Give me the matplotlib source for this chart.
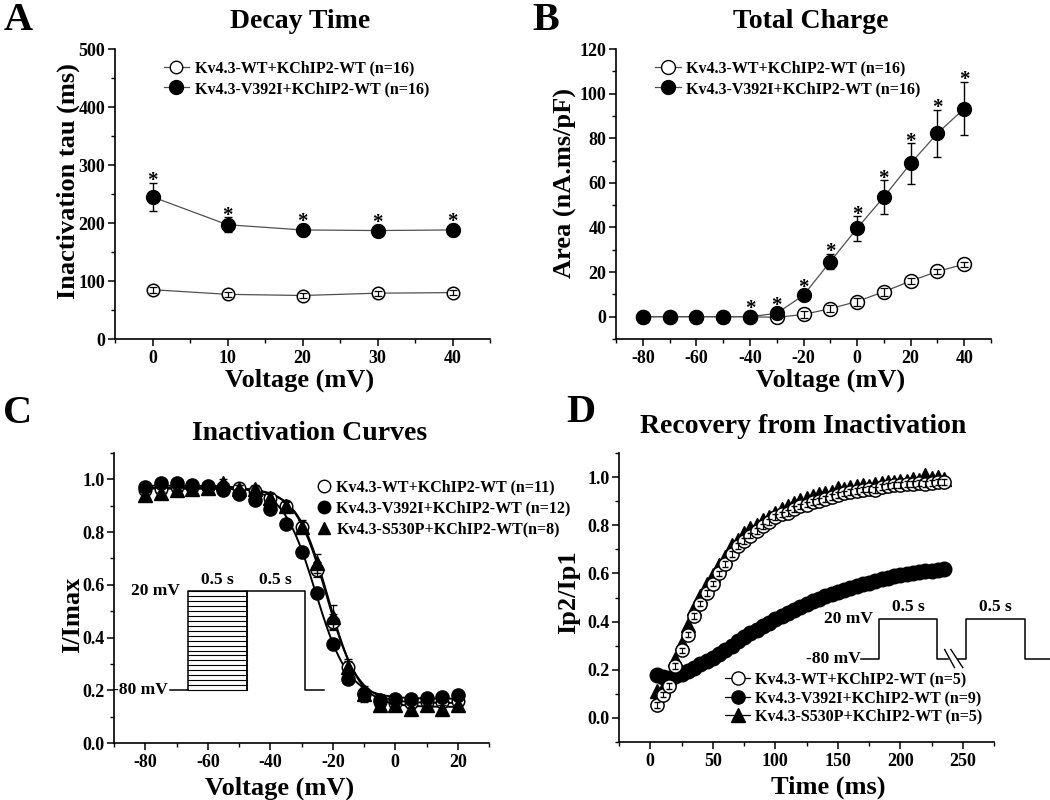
import matplotlib
matplotlib.use('Agg')
import matplotlib.pyplot as plt
import numpy as np
from matplotlib.ticker import MultipleLocator, FormatStrFormatter
from matplotlib.lines import Line2D

plt.rcParams['font.family'] = ['Liberation Serif', 'DejaVu Serif']
plt.rcParams['font.weight'] = 'bold'
plt.rcParams['axes.labelweight'] = 'bold'
plt.rcParams['axes.linewidth'] = 1.2
plt.rcParams['axes.unicode_minus'] = False
plt.rcParams['xtick.direction'] = 'out'
plt.rcParams['ytick.direction'] = 'out'

# ---------------- Panel A: Decay Time ----------------
a_voltage = [0, 10, 20, 30, 40]
a_wt = [85, 77, 75, 79, 80]
a_wt_err = [5, 4, 4, 4, 4]
a_v392i = [245, 197, 188, 187, 188]
a_v392i_err = [24, 13, 10, 10, 11]
a_labels = ['Kv4.3-WT+KChIP2-WT (n=16)', 'Kv4.3-V392I+KChIP2-WT (n=16)']

# ---------------- Panel B: Total Charge ----------------
b_voltage = [-80, -70, -60, -50, -40, -30, -20, -10, 0, 10, 20, 30, 40]
b_wt = [0, 0, 0, 0, 0, -0.3, 1.0, 3.6, 6.8, 11.2, 16.0, 20.3, 23.5]
b_wt_err = [0, 0, 0, 0, 0, 0.6, 1.5, 1.5, 1.8, 1.8, 1.5, 1.2, 1.2]
b_v392i = [0, 0, 0, 0, 0, 1.5, 9.6, 24.7, 39.6, 53.7, 68.7, 82.2, 93.3]
b_v392i_err = [0, 0, 0, 0, 0, 0.8, 1.5, 3.5, 5.5, 7.5, 9.0, 10.5, 12.0]
b_star_voltage = [-40, -30, -20, -10, 0, 10, 20, 30, 40]
b_labels = ['Kv4.3-WT+KChIP2-WT (n=16)', 'Kv4.3-V392I+KChIP2-WT (n=16)']

# ---------------- Panel C: Inactivation Curves ----------------
c_voltage = [-80, -75, -70, -65, -60, -55, -50, -45, -40, -35, -30, -25, -20,
             -15, -10, -5, 0, 5, 10, 15, 20]
c_wt = [0.96, 0.965, 0.97, 0.97, 0.97, 0.97, 0.966, 0.955, 0.93, 0.899, 0.82,
        0.658, 0.46, 0.29, 0.19, 0.155, 0.15, 0.15, 0.155, 0.155, 0.16]
c_wt_err = [0.015, 0.012, 0.012, 0.012, 0.012, 0.012, 0.012, 0.012, 0.015, 0.015,
            0.02, 0.03, 0.03, 0.02, 0.015, 0.012, 0.012, 0.012, 0.012, 0.012, 0.012]
c_v392i = [0.97, 0.987, 0.985, 0.978, 0.975, 0.96, 0.944, 0.92, 0.886, 0.829,
           0.725, 0.57, 0.377, 0.244, 0.187, 0.162, 0.168, 0.168, 0.171, 0.175, 0.181]
c_v392i_err = [0.01] * 21
c_s530p = [0.94, 0.947, 0.96, 0.962, 0.966, 0.987, 0.962, 0.962, 0.928, 0.899,
           0.82, 0.681, 0.478, 0.289, 0.187, 0.143, 0.143, 0.13, 0.143, 0.13, 0.143]
c_s530p_err = [0.02, 0.02, 0.02, 0.02, 0.015, 0.015, 0.015, 0.015, 0.02, 0.02,
               0.025, 0.035, 0.045, 0.03, 0.03, 0.02, 0.015, 0.015, 0.015, 0.015, 0.015]
c_labels = ['Kv4.3-WT+KChIP2-WT (n=11)', 'Kv4.3-V392I+KChIP2-WT (n=12)',
            'Kv4.3-S530P+KChIP2-WT(n=8)']
# Boltzmann fit parameters (top, bottom, V1/2, slope k)
c_fit_wt = (0.968, 0.152, -22.0, 5.0)
c_fit_v392i = (0.976, 0.168, -25.5, 5.3)
c_fit_s530p = (0.965, 0.137, -21.5, 5.0)

# ---------------- Panel D: Recovery from Inactivation ----------------
d_time = list(range(5, 240, 5))
d_wt = [0.055, 0.097, 0.134, 0.215, 0.28, 0.346, 0.422, 0.475, 0.52, 0.558,
        0.60, 0.64, 0.68, 0.713, 0.735, 0.757, 0.776, 0.795, 0.812, 0.835,
        0.845, 0.85, 0.868, 0.878, 0.886, 0.895, 0.902, 0.91, 0.918, 0.925,
        0.932, 0.938, 0.943, 0.948, 0.951, 0.945, 0.958, 0.962, 0.966, 0.968,
        0.97, 0.972, 0.974, 0.97, 0.976, 0.978, 0.98]
d_v392i = [0.178, 0.168, 0.166, 0.172, 0.182, 0.195, 0.208, 0.222, 0.235, 0.25,
           0.265, 0.282, 0.30, 0.318, 0.335, 0.352, 0.367, 0.382, 0.396, 0.41,
           0.423, 0.436, 0.449, 0.461, 0.473, 0.485, 0.495, 0.505, 0.514, 0.523,
           0.532, 0.541, 0.548, 0.555, 0.562, 0.569, 0.576, 0.582, 0.588, 0.594,
           0.599, 0.603, 0.606, 0.609, 0.612, 0.614, 0.617]
d_s530p = [0.113, 0.125, 0.166, 0.245, 0.31, 0.385, 0.457, 0.505, 0.555, 0.595,
           0.634, 0.67, 0.72, 0.74, 0.768, 0.787, 0.803, 0.82, 0.835, 0.85,
           0.868, 0.88, 0.893, 0.905, 0.912, 0.92, 0.928, 0.934, 0.94, 0.955,
           0.95, 0.958, 0.962, 0.968, 0.965, 0.972, 0.975, 0.978, 0.98, 0.982,
           0.985, 0.99, 0.988, 1.01, 0.995, 1.0, 0.993]
d_err = 0.012
d_labels = ['Kv4.3-WT+KChIP2-WT (n=5)', 'Kv4.3-V392I+KChIP2-WT (n=9)',
            'Kv4.3-S530P+KChIP2-WT (n=5)']

LINEC = '#505050'
TICKSIZE = 13
W, H = 1050, 800
fig = plt.figure(figsize=(10.5, 8), dpi=100)


def px_axes(l, t, r, b):
    return fig.add_axes([l / W, 1 - b / H, (r - l) / W, (b - t) / H])


def style(ax, xmaj, xmin, ymaj, ymin):
    for s in ('top', 'right'):
        ax.spines[s].set_visible(False)
    ax.xaxis.set_major_locator(MultipleLocator(xmaj))
    ax.xaxis.set_minor_locator(MultipleLocator(xmin))
    ax.yaxis.set_major_locator(MultipleLocator(ymaj))
    ax.yaxis.set_minor_locator(MultipleLocator(ymin))
    ax.tick_params(which='major', length=5, width=1.1, labelsize=TICKSIZE, pad=2)
    ax.tick_params(which='minor', length=3, width=1.0)
    ax.tick_params(axis='x', which='major', pad=3)
    for lab in ax.get_xticklabels() + ax.get_yticklabels():
        lab.set_fontweight('bold')


def labels(ax, xl, xlx, xly, yl, ylx, yly, size=19):
    ax.text(xlx, xly, xl, transform=ax.transAxes, ha='center', va='center',
            fontsize=size, fontweight='bold')
    ax.text(ylx, yly, yl, transform=ax.transAxes, ha='center', va='center',
            fontsize=size, fontweight='bold', rotation=90)


def stars(ax, xs, ys, errs, r_px=6):
    inv = ax.transData.inverted()
    for x, y, e in zip(xs, ys, errs):
        px0 = ax.transData.transform((x, y))
        ey = ax.transData.transform((x, y + e))[1] - px0[1]
        off = max(ey, r_px) - 8.5
        top = inv.transform((px0[0], px0[1] + off))[1]
        ax.text(x, top, '*', ha='center', va='bottom', fontsize=15,
                fontweight='bold', transform=ax.transData)


def open_err(ax, x, y, e, ms, marker='o'):
    ax.plot(x, y, marker=marker, ls='none', mfc='white', mec='black', mew=1.1,
            ms=ms, zorder=3)
    ax.errorbar(x, y, yerr=e, fmt='none', ecolor='black', elinewidth=0.9,
                capsize=3, capthick=0.9, zorder=4)


# ================= Panel A =================
axA = px_axes(115, 49, 490, 339)
axA.set_xlim(-5, 45)
axA.set_ylim(0, 500)
axA.plot(a_voltage, a_wt, '-', color=LINEC, lw=0.9, zorder=2)
open_err(axA, a_voltage, a_wt, a_wt_err, 9)
axA.errorbar(a_voltage, a_v392i, yerr=a_v392i_err, fmt='-o', color=LINEC, lw=0.9,
             mfc='black', mec='black', ms=10, ecolor='black', elinewidth=1,
             capsize=3, capthick=1, zorder=3)
style(axA, 10, 5, 100, 50)
labels(axA, 'Voltage (mV)', 0.493, -0.142, 'Inactivation tau (ms)', -0.125, 0.545)
stars(axA, a_voltage, a_v392i, a_v392i_err)
hA = [Line2D([], [], color=LINEC, lw=0.9, marker='o', mfc='white', mec='black', ms=9),
      Line2D([], [], color=LINEC, lw=0.9, marker='o', mfc='black', mec='black', ms=10)]
axA.legend(hA, a_labels, loc='upper left', bbox_to_anchor=(0.10, 1.0), frameon=False,
           prop={'size': 11.5, 'weight': 'bold'}, handlelength=1.6, handletextpad=0.35,
           labelspacing=0.3, borderaxespad=0.3)

# ================= Panel B =================
axB = px_axes(616, 49, 991, 339)
axB.set_xlim(-90, 50)
axB.set_ylim(-10, 120)
axB.plot(b_voltage, b_wt, '-', color=LINEC, lw=0.9, zorder=2)
open_err(axB, b_voltage, b_wt, b_wt_err, 10)
axB.errorbar(b_voltage, b_v392i, yerr=b_v392i_err, fmt='-o', color=LINEC, lw=0.9,
             mfc='black', mec='black', ms=10, ecolor='black', elinewidth=1,
             capsize=3, capthick=1, zorder=5)
style(axB, 20, 10, 20, 10)
labels(axB, 'Voltage (mV)', 0.573, -0.142, 'Area (nA.ms/pF)', -0.135, 0.538)
bi = [b_voltage.index(v) for v in b_star_voltage]
stars(axB, b_star_voltage, [b_v392i[i] for i in bi], [b_v392i_err[i] for i in bi])
hB = [Line2D([], [], color=LINEC, lw=0.9, marker='o', mfc='white', mec='black', ms=10),
      Line2D([], [], color=LINEC, lw=0.9, marker='o', mfc='black', mec='black', ms=10)]
axB.legend(hB, b_labels, loc='upper left', bbox_to_anchor=(0.075, 1.0), frameon=False,
           prop={'size': 11.5, 'weight': 'bold'}, handlelength=1.6, handletextpad=0.35,
           labelspacing=0.3, borderaxespad=0.3)

# ================= Panel C =================
axC = px_axes(114, 453, 489, 743)
axC.set_xlim(-90, 30)
axC.set_ylim(0, 1.1)
vfit = np.linspace(-80, 20, 300)
for (top, bot, vh, k) in (c_fit_wt, c_fit_v392i, c_fit_s530p):
    axC.plot(vfit, bot + (top - bot) / (1 + np.exp((vfit - vh) / k)), '-',
             color='black', lw=1.4, zorder=2)
open_err(axC, c_voltage, c_wt, c_wt_err, 9)
axC.errorbar(c_voltage, c_v392i, yerr=c_v392i_err, fmt='o', mfc='black', mec='black',
             ms=9.5, ecolor='black', elinewidth=0.9, capsize=3, zorder=5)
axC.errorbar(c_voltage, c_s530p, yerr=c_s530p_err, fmt='^', mfc='black', mec='black',
             ms=9.5, ecolor='black', elinewidth=0.9, capsize=3, zorder=6)
style(axC, 20, 10, 0.2, 0.1)
axC.yaxis.set_major_formatter(FormatStrFormatter('%.1f'))
labels(axC, 'Voltage (mV)', 0.442, -0.157, 'I/Imax', -0.11, 0.441)
hC = [Line2D([], [], ls='none', marker='o', mfc='white', mec='black', ms=9),
      Line2D([], [], ls='none', marker='o', mfc='black', mec='black', ms=9),
      Line2D([], [], ls='none', marker='^', mfc='black', mec='black', ms=9)]
legC = axC.legend(hC, c_labels, loc='upper left', bbox_to_anchor=(0.525, 0.93),
                  frameon=False, prop={'size': 11.5, 'weight': 'bold'},
                  handlelength=0.9, handletextpad=0.3, labelspacing=0.3,
                  borderaxespad=0.0)
legC.set_clip_on(False)
# protocol inset (data coordinates)
lo, hi = 0.2, 0.577
axC.plot([-72, -66.4], [lo, lo], color='black', lw=1.1)
axC.plot([-66.4, -66.4, -47.6, -47.6], [lo, hi, hi, lo], color='black', lw=1.1)
for yy in np.linspace(lo, hi, 21):
    axC.plot([-66.4, -47.6], [yy, yy], color='black', lw=0.8)
axC.plot([-47.6, -47.6, -29.0, -29.0, -22.8], [lo, hi, hi, lo, lo], color='black', lw=1.1)
axC.text(-68.8, hi, '20 mV', ha='right', va='center', fontsize=12.5, fontweight='bold')
axC.text(-72.8, lo, '-80 mV', ha='right', va='center', fontsize=12.5, fontweight='bold')
axC.text(-57.0, hi + 0.012, '0.5 s', ha='center', va='bottom', fontsize=12.5, fontweight='bold')
axC.text(-38.3, hi + 0.012, '0.5 s', ha='center', va='bottom', fontsize=12.5, fontweight='bold')

# ================= Panel D =================
axD = px_axes(619, 453, 994, 742)
axD.set_xlim(-25, 275)
axD.set_ylim(-0.1, 1.1)
axD.plot(d_time, d_v392i, 'o', mfc='black', mec='black', ms=10.5, zorder=3)
axD.plot(d_time, d_s530p, '^', mfc='black', mec='black', ms=10, zorder=4)
axD.plot(d_time, d_wt, 'o', mfc='white', mec='black', mew=1.1, ms=9.5, zorder=5)
axD.errorbar(d_time, d_wt, yerr=d_err, fmt='none', ecolor='black', elinewidth=0.8,
             capsize=2.5, zorder=6)
style(axD, 50, 25, 0.2, 0.1)
axD.yaxis.set_major_formatter(FormatStrFormatter('%.1f'))
labels(axD, 'Time (ms)', 0.557, -0.155, 'Ip2/Ip1', -0.135, 0.52)
hD = [Line2D([], [], color='black', lw=0.9, marker='o', mfc='white', mec='black', ms=9.5),
      Line2D([], [], color='black', lw=0.9, marker='o', mfc='black', mec='black', ms=9.5),
      Line2D([], [], color='black', lw=0.9, marker='^', mfc='black', mec='black', ms=9.5)]
axD.legend(hD, d_labels, loc='upper left', bbox_to_anchor=(0.265, 0.265), frameon=False,
           prop={'size': 11.5, 'weight': 'bold'}, handlelength=1.6, handletextpad=0.3,
           labelspacing=0.15, borderaxespad=0.0)
dlo, dhi = 0.246, 0.411
axD.plot([168.3, 183, 183, 229.6, 229.6, 238], [dlo, dlo, dhi, dhi, dlo, dlo],
         color='black', lw=1.1, clip_on=False)
axD.plot([246, 252.7, 252.7, 299.9, 299.9, 320], [dlo, dlo, dhi, dhi, dlo, dlo],
         color='black', lw=1.1, clip_on=False)
axD.plot([235.5, 243.4], [0.284, 0.209], color='black', lw=1.0, clip_on=False)
axD.plot([240.5, 250.0], [0.284, 0.209], color='black', lw=1.0, clip_on=False)
axD.text(178.4, dhi, '20 mV', ha='right', va='center', fontsize=12.5, fontweight='bold')
axD.text(168.0, dlo, '-80 mV', ha='right', va='center', fontsize=12.5, fontweight='bold')
axD.text(206.3, dhi + 0.015, '0.5 s', ha='center', va='bottom', fontsize=12.5,
         fontweight='bold', clip_on=False)
axD.text(276.3, dhi + 0.015, '0.5 s', ha='center', va='bottom', fontsize=12.5,
         fontweight='bold', clip_on=False)

# ================= Titles and panel letters =================
fig.text(300 / W, 1 - 22 / H, 'Decay Time', ha='center', va='center', fontsize=20, fontweight='bold')
fig.text(811 / W, 1 - 22 / H, 'Total Charge', ha='center', va='center', fontsize=20, fontweight='bold')
fig.text(310 / W, 1 - 433 / H, 'Inactivation Curves', ha='center', va='center', fontsize=20, fontweight='bold')
fig.text(803 / W, 1 - 427 / H, 'Recovery from Inactivation', ha='center', va='center', fontsize=20, fontweight='bold')
fig.text(18 / W, 1 - 20 / H, 'A', ha='center', va='center', fontsize=29, fontweight='bold')
fig.text(546 / W, 1 - 20 / H, 'B', ha='center', va='center', fontsize=29, fontweight='bold')
fig.text(18 / W, 1 - 414 / H, 'C', ha='center', va='center', fontsize=29, fontweight='bold')
fig.text(581 / W, 1 - 412 / H, 'D', ha='center', va='center', fontsize=29, fontweight='bold')

fig.savefig('out.png', dpi=100)
